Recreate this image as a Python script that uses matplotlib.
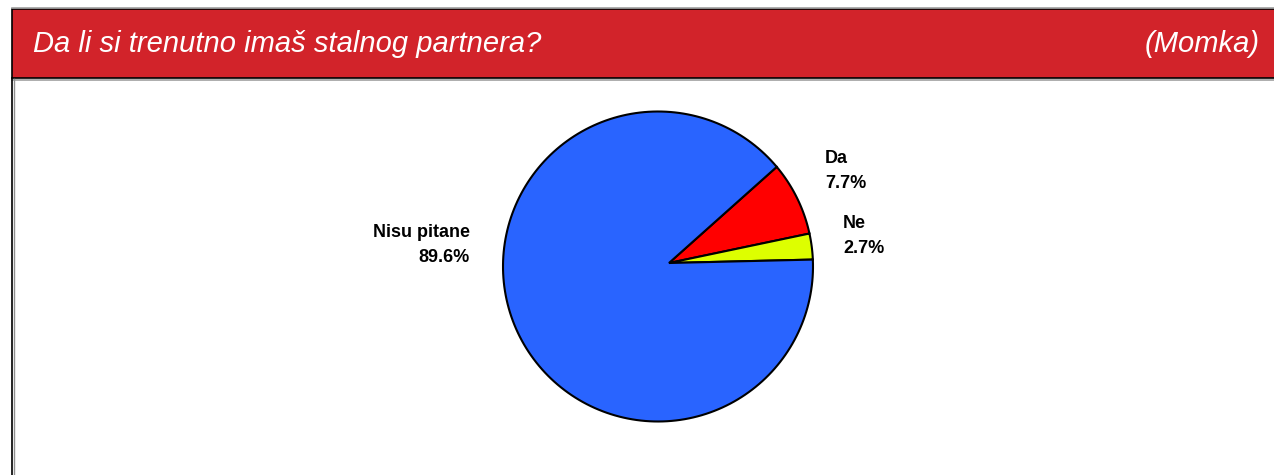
import numpy as np
import matplotlib.pyplot as plt
from matplotlib.patches import Polygon, Rectangle

# data
labels = ["Da", "Ne", "Nisu pitane"]
values = [7.7, 2.7, 89.6]
colors = ["#FF0000", "#DDFF00", "#2964FF"]
title = "Da li si trenutno imaš stalnog partnera?"
subtitle = "(Momka)"

W, H = 1274, 475
fig = plt.figure(figsize=(W / 100, H / 100), dpi=100)
ax = fig.add_axes([0, 0, 1, 1])
ax.set_xlim(0, W)
ax.set_ylim(H, 0)
ax.axis("off")

# header band and frame
ax.plot([12, W], [8, 8], color="#A0A0A0", lw=1.2)
ax.add_patch(Rectangle((12, 9), W - 12 + 5, 69, facecolor="#D2232A",
                       edgecolor="black", lw=1.2))
ax.plot([12, W], [79.5, 79.5], color="#A0A0A0", lw=1.2)
ax.plot([12, 12], [78, H], color="black", lw=1.2)
ax.plot([13.5, 13.5], [79, H], color="#909090", lw=1.0)

ax.text(33, 44, title, color="white", fontsize=21, style="italic",
        family=["Liberation Sans", "DejaVu Sans"], va="center", ha="left")
ax.text(1260, 44, subtitle, color="white", fontsize=21, style="italic",
        family=["Liberation Sans", "DejaVu Sans"], va="center", ha="right")

# pie: arcs on the circle, wedge tips meet at a point a bit off centre
cx, cy, r = 658, 266.5, 155
tip = (669, 263)
start = 40
angles = start - np.cumsum([0] + [v / sum(values) * 360 for v in values])
for i in range(len(values)):
    th = np.radians(np.linspace(angles[i], angles[i + 1], 200))
    pts = np.column_stack([cx + r * np.cos(th), cy - r * np.sin(th)])
    pts = np.vstack([[tip], pts])
    ax.add_patch(Polygon(pts, closed=True, facecolor=colors[i],
                         edgecolor="black", lw=1.5, joinstyle="miter"))

# labels
label_pos = [(825, 171, "left"), (843, 236, "left"), (470, 245, "right")]
for lab, v, (x, y, ha) in zip(labels, values, label_pos):
    ax.text(x, y, f"{lab}\n{v:.1f}%", fontsize=13, fontweight="bold",
            family=["Liberation Sans", "DejaVu Sans"], ha=ha,
            va="center", multialignment=ha, linespacing=1.55)

fig.savefig("out.png", dpi=100)
